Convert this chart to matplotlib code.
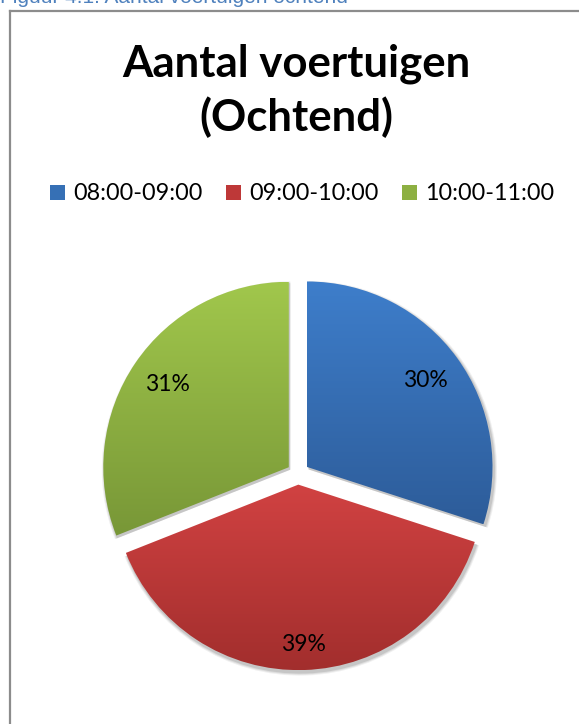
import numpy as np
import matplotlib
matplotlib.use("Agg")
import matplotlib.pyplot as plt
from matplotlib.patches import Patch, Wedge
from matplotlib.lines import Line2D
from matplotlib.colors import LinearSegmentedColormap

# data
labels = ["08:00-09:00", "09:00-10:00", "10:00-11:00"]
shares = [30, 39, 31]
title_lines = ["Aantal voertuigen", "(Ochtend)"]
caption = "Figuur 4.1: Aantal voertuigen ochtend"

# top / bottom colour of each slice (vertical gradient like Excel)
tops = ["#3E7ECB", "#D14242", "#A1C74C"]
bottoms = ["#2D5C99", "#A22E2D", "#789737"]
label_dist = [0.79, 0.86, 0.79]

W, H = 579, 724
fig = plt.figure(figsize=(W / 100, H / 100), dpi=100)
fig.patch.set_facecolor("white")

# caption cut off at top + chart frame
fig.text(0, 1 - 3 / H, caption, ha="left", va="baseline", color="#4F81BD",
         fontsize=15, family="Liberation Sans")
fig.add_artist(Line2D([10 / W, 1], [1 - 10.5 / H, 1 - 10.5 / H], color="#8C8C8C", lw=1.6))
fig.add_artist(Line2D([10 / W, 10 / W], [0, 1 - 10.5 / H], color="#8C8C8C", lw=1.6))

for line, base in zip(title_lines, [76, 131]):
    fig.text(296 / W, 1 - base / H, line, ha="center", va="baseline", fontsize=31.5,
             fontweight="bold", family="Lato")

# pie axes: radius 185.5px, centre at (298, 473.5)
r = 185.5
lim = 1.3
cx, cy = 298, 473.5
ax = fig.add_axes([(cx - lim * r) / W, (H - cy - lim * r) / H, 2 * lim * r / W, 2 * lim * r / H])
wedges, texts, autotexts = ax.pie(shares, startangle=90, counterclock=False,
                                  explode=[0.06] * 3, autopct="%1.0f%%",
                                  textprops=dict(fontsize=16.5, family="Lato", color="black"))

for w, c0, c1, t, d in zip(wedges, tops, bottoms, autotexts, label_dist):
    # soft shadow
    for k, a in [(3, 0.06), (2, 0.08), (1, 0.1)]:
        sh = Wedge((w.center[0] + 1.5 / r, w.center[1] - 2.5 / r), w.r + k / r,
                   w.theta1, w.theta2, facecolor="black", edgecolor="none",
                   alpha=a, zorder=0.5)
        ax.add_patch(sh)
    w.set_facecolor("none")
    w.set_edgecolor("none")
    ext = w.get_path().get_extents()
    cmap = LinearSegmentedColormap.from_list("g", [c1, c0])
    grad = np.linspace(0, 1, 256).reshape(-1, 1)
    im = ax.imshow(grad, cmap=cmap, origin="lower", aspect="auto",
                   extent=[ext.x0, ext.x1, ext.y0, ext.y1], zorder=1)
    im.set_clip_path(w)
    mid = np.deg2rad((w.theta1 + w.theta2) / 2)
    t.set_position((w.center[0] + d * np.cos(mid), w.center[1] + d * np.sin(mid)))
    t.set_zorder(3)

ax.set_xlim(-lim, lim)
ax.set_ylim(-lim, lim)
ax.set_aspect("equal")
ax.axis("off")

handles = [Patch(facecolor=c) for c in ["#3670B5", "#BE3838", "#8DB042"]]
fig.legend(handles, labels, loc="center", bbox_to_anchor=(302 / W, 1 - 194 / H),
           ncol=3, frameon=False, handlelength=0.65, handleheight=0.65,
           handletextpad=0.35, columnspacing=1.0, prop=dict(family="Lato", size=16.8))

fig.savefig("out.png", dpi=100)
